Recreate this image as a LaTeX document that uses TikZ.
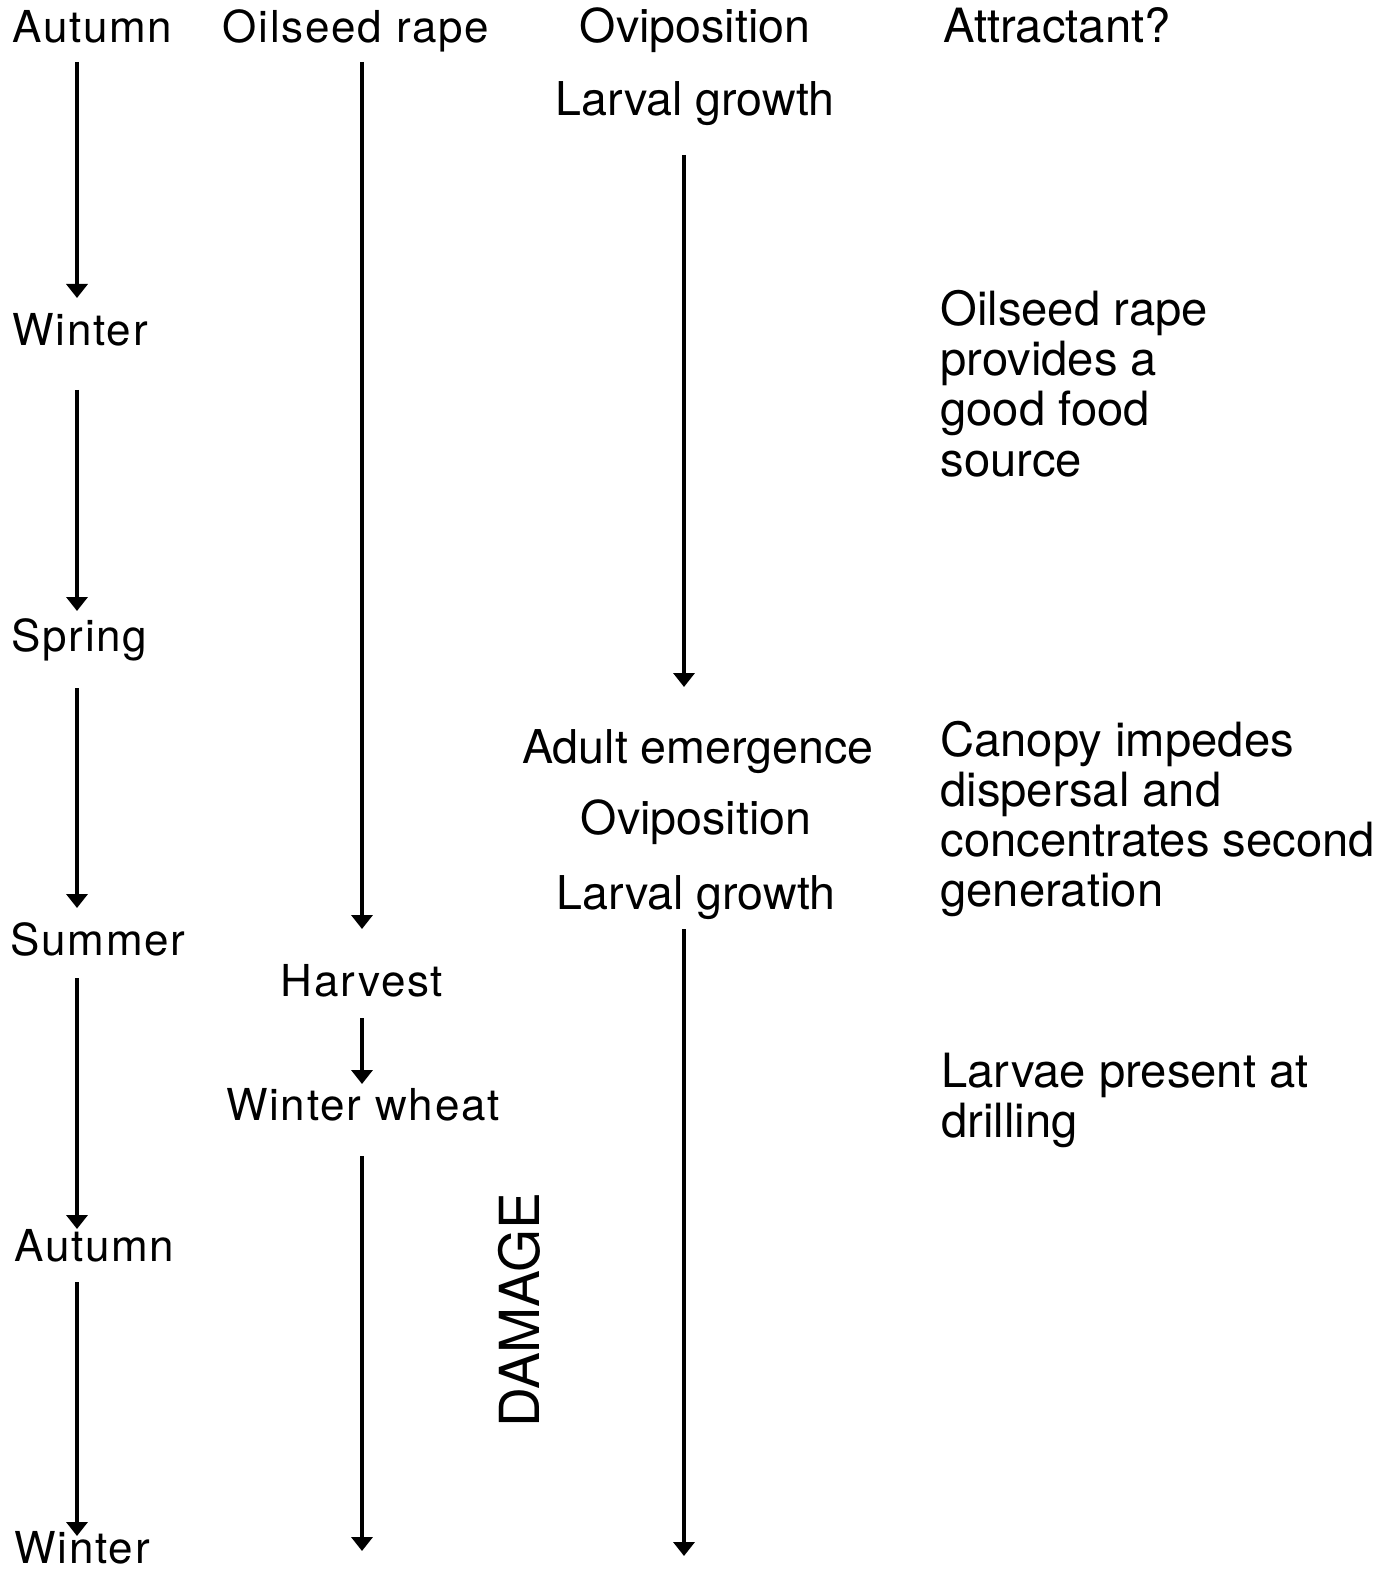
\documentclass[tikz,border=0pt]{standalone}
\usepackage{fontspec}
\setmainfont{TeX Gyre Heros}
\newfontfamily\widefont[LetterSpace=4]{TeX Gyre Heros}
\usetikzlibrary{arrows.meta}
\begin{document}
\begin{tikzpicture}[x=0.5pt,y=-0.5pt,
  season/.style={anchor=base west,inner sep=0pt,font=\widefont\fontsize{22}{26}\selectfont},
  crop/.style={anchor=base,inner sep=0pt,font=\widefont\fontsize{22}{26}\selectfont},
  stage/.style={anchor=base,inner sep=0pt,font=\fontsize{23.3}{25}\selectfont},
  note/.style={anchor=base west,inner sep=0pt,font=\fontsize{23.6}{25}\selectfont},
  flow/.style={line width=1.9pt,-{Triangle[width=10.5pt,length=7pt]}}]
\useasboundingbox (0,0) rectangle (1392,1572);
% column 1: seasons
\node[season] (s1) at (12,43) {Autumn};
\node[season] (s2) at (12,346) {Winter};
\node[season] (s3) at (11,651) {Spring};
\node[season] (s4) at (10,955) {Summer};
\node[season] (s5) at (14,1261) {Autumn};
\node[season] (s6) at (14,1563) {Winter};
\coordinate (a1s) at (77,62);   \coordinate (a1e) at (77,298);
\coordinate (a2s) at (77,390);  \coordinate (a2e) at (77,611);
\coordinate (a3s) at (77,688);  \coordinate (a3e) at (77,908);
\coordinate (a4s) at (77,978);  \coordinate (a4e) at (77,1229);
\coordinate (a5s) at (77,1282); \coordinate (a5e) at (77,1536);
\draw[flow] (a1s) -- (a1e);
\draw[flow] (a2s) -- (a2e);
\draw[flow] (a3s) -- (a3e);
\draw[flow] (a4s) -- (a4e);
\draw[flow] (a5s) -- (a5e);
% column 2: crops
\node[crop] (c1) at (356,43) {Oilseed rape};
\node[crop] (c2) at (362,996) {Harvest};
\node[crop] (c3) at (363,1120) {Winter wheat};
\coordinate (b1s) at (362,62);   \coordinate (b1e) at (362,929);
\coordinate (b2s) at (362,1018); \coordinate (b2e) at (362,1084);
\coordinate (b3s) at (362,1156); \coordinate (b3e) at (362,1551);
\draw[flow] (b1s) -- (b1e);
\draw[flow] (b2s) -- (b2e);
\draw[flow] (b3s) -- (b3e);
\node[anchor=base,inner sep=0pt,rotate=90,font=\fontsize{27.6}{30}\selectfont] (dmg) at (539,1310) {DAMAGE};
% column 3: insect stages
\node[stage] (g1) at (695,43) {Oviposition};
\node[stage] (g2) at (695,116) {Larval growth};
\node[stage] (g3) at (698,763) {Adult emergence};
\node[stage] (g4) at (696,834) {Oviposition};
\node[stage] (g5) at (696,909) {Larval growth};
\coordinate (d1s) at (684,155); \coordinate (d1e) at (684,687);
\coordinate (d2s) at (684,929); \coordinate (d2e) at (684,1556);
\draw[flow] (d1s) -- (d1e);
\draw[flow] (d2s) -- (d2e);
% column 4: notes
\node[note] (n0) at (943,43) {Attractant?};
\node[note] (n1a) at (940,326) {Oilseed rape};
\node[note] (n1b) at (940,376) {provides a};
\node[note] (n1c) at (940,426) {good food};
\node[note] (n1d) at (940,476) {source};
\node[note] (n2a) at (940,756) {Canopy impedes};
\node[note] (n2b) at (940,806) {dispersal and};
\node[note] (n2c) at (940,856) {concentrates second};
\node[note] (n2d) at (940,906) {generation};
\node[note] (n3a) at (941,1087) {Larvae present at};
\node[note] (n3b) at (941,1137) {drilling};
\end{tikzpicture}
\end{document}
